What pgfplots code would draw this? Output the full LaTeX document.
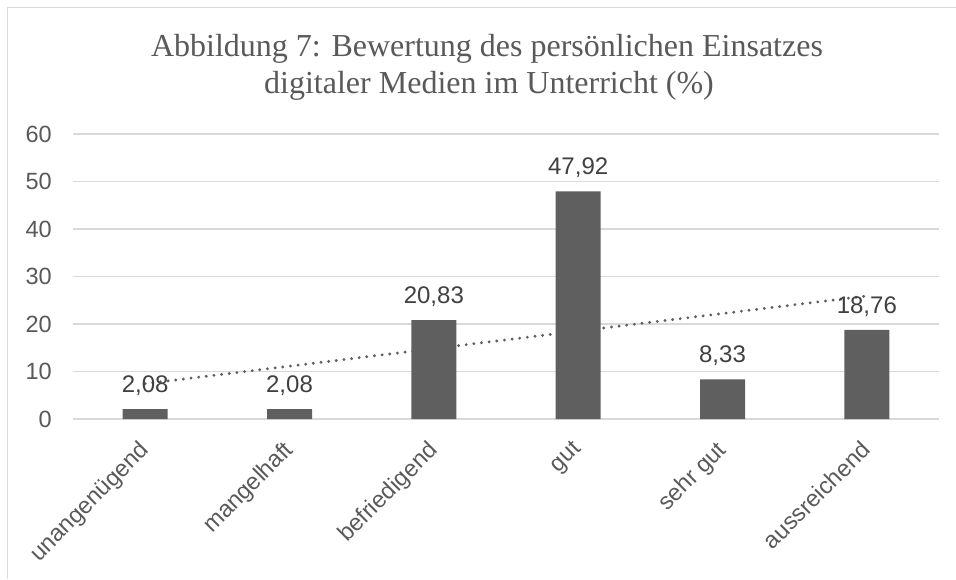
\documentclass[border=0pt]{standalone}
\usepackage{fontspec}
\setmainfont{Liberation Sans}
\newfontfamily\titlefont{Liberation Serif}
\usepackage{pgfplots}
\pgfplotsset{compat=1.18}
\definecolor{bargray}{HTML}{5F5F5F}
\definecolor{txtgray}{HTML}{595959}
\definecolor{lblgray}{HTML}{404040}
\definecolor{gridgray}{HTML}{D9D9D9}
\begin{document}
\begin{tikzpicture}[x=1pt,y=1pt]
\path[use as bounding box] (0,0) rectangle (956,579);
\draw[gridgray, line width=1.3pt] (7.5,0) -- (7.5,571.5) -- (956,571.5);
\node[anchor=base, text=txtgray, font=\titlefont\fontsize{32}{37}\selectfont, inner sep=0pt] at (487,522.3) {Abbildung 7: Bewertung des persönlichen Einsatzes};
\node[anchor=base, text=txtgray, font=\titlefont\fontsize{32}{37}\selectfont, inner sep=0pt] at (489,485.7) {digitaler Medien im Unterricht (\%)};
\begin{axis}[
  at={(73pt,160pt)}, anchor=south west,
  scale only axis, width=866pt, height=285pt,
  xmin=-0.5, xmax=5.5, ymin=0, ymax=60,
  ytick={0,10,...,60},
  xtick={0,...,5},
  xticklabels={unangenügend, mangelhaft, befriedigend, gut, sehr gut, aussreichend},
  axis line style={draw=none},
  major tick length=0pt,
  ymajorgrids, grid style={gridgray, line width=1.3pt},
  tick label style={font=\fontsize{23.5}{27}\selectfont, text=txtgray},
  yticklabel style={anchor=east, inner sep=0pt, xshift=-21pt},
  xticklabel style={rotate=45, anchor=north east, inner sep=0pt, xshift=-19.2pt, yshift=-9.2pt},
  /pgf/number format/assume math mode=true,
]
\addplot[color=bargray, line width=3.2pt, dash pattern=on 0pt off 7.7pt, line cap=round] coordinates {(0,7.435) (5,25.898)};
\addplot[ybar, bar width=45pt, fill=bargray, draw=none,
  nodes near coords={\pgfmathprintnumber[fixed, fixed zerofill, precision=2, use comma, assume math mode=true]{\pgfplotspointmeta}},
  every node near coord/.append style={anchor=south, inner sep=0pt, text depth=0pt, yshift=16.5pt, font=\fontsize{24}{28}\selectfont, text=lblgray}]
  coordinates {(0,2.08) (1,2.08) (2,20.83) (3,47.92) (4,8.33) (5,18.76)};
\end{axis}
\end{tikzpicture}
\end{document}
